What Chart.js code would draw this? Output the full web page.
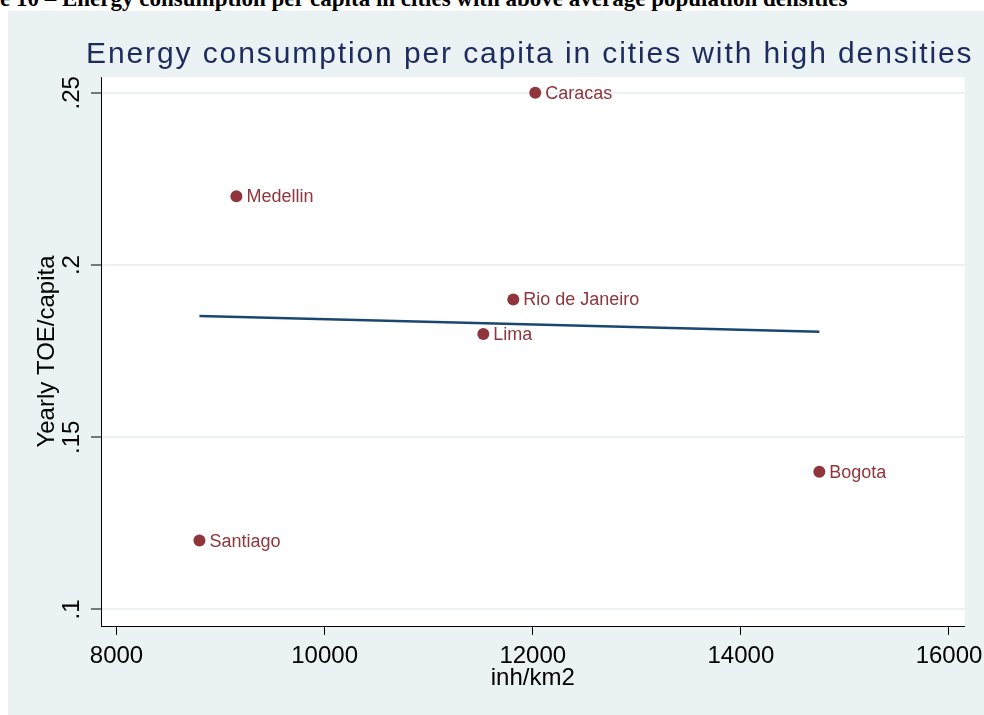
<!DOCTYPE html>
<html>
<head>
<meta charset="utf-8">
<script src="https://cdn.jsdelivr.net/npm/chart.js@4.4.0/dist/chart.umd.min.js"></script>
<style>
  html, body { margin: 0; padding: 0; background: #fff; width: 984px; height: 715px; overflow: hidden; position: relative; }
  #cap { position: absolute; left: 0; top: -13px; font: bold 23px "Liberation Serif", serif; line-height: 23px; white-space: nowrap; color: #000; }
  #wrap { position: absolute; left: 8px; top: 11px; width: 976px; height: 704px; background: #eaf2f3; }
</style>
</head>
<body>
<div id="cap">e 10 – Energy consumption per capita in cities with above average population densities</div>
<div id="wrap"><canvas id="chart" width="976" height="704"></canvas></div>
<script>
// values
const cities = ["Medellin", "Caracas", "Rio de Janeiro", "Lima", "Bogota", "Santiago"];
const density = [9152, 12024, 11813, 11525, 14754, 8797];
const toe = [0.22, 0.25, 0.19, 0.18, 0.14, 0.12];

// fitted line, end points
const fitX = [8797, 14754];
const fitY = [0.1852, 0.1806];

const xTicks = [8000, 10000, 12000, 14000, 16000];
const yTicks = [0.1, 0.15, 0.2, 0.25];
const yTickLabels = [".1", ".15", ".2", ".25"];

const maroon = "#90353b";
const navy = "#1a476f";

Chart.defaults.font.family = '"Liberation Sans", Arial, sans-serif';
Chart.defaults.color = "#000";

const plotBg = {
  id: "plotBg",
  beforeDraw(chart) {
    const a = chart.chartArea;
    const ctx = chart.ctx;
    ctx.save();
    ctx.fillStyle = "#fff";
    ctx.fillRect(a.left, a.top, a.right - a.left, a.bottom - a.top);
    ctx.restore();
  },
};

const pointLabels = {
  id: "pointLabels",
  afterDatasetsDraw(chart) {
    const ctx = chart.ctx;
    const meta = chart.getDatasetMeta(0);
    ctx.save();
    ctx.font = '18px "Liberation Sans", Arial, sans-serif';
    ctx.fillStyle = maroon;
    ctx.textBaseline = "middle";
    meta.data.forEach((pt, i) => {
      ctx.fillText(cities[i], pt.x + 10, pt.y + 1);
    });
    ctx.restore();
  },
};

const headline = {
  id: "headline",
  afterDraw(chart) {
    const ctx = chart.ctx;
    ctx.save();
    ctx.font = '30px "Liberation Sans", Arial, sans-serif';
    ctx.letterSpacing = "1.9px";
    ctx.fillStyle = "#1e2b5e";
    ctx.textAlign = "left";
    ctx.textBaseline = "alphabetic";
    ctx.fillText("Energy consumption per capita in cities with high densities", 78, 52);
    ctx.restore();
  },
};

// no extra room for overhanging tick labels
function noPad(s) {
  s.paddingLeft = 0;
  s.paddingRight = 0;
  s.paddingTop = 0;
  s.paddingBottom = 0;
}

new Chart(document.getElementById("chart"), {
  type: "scatter",
  data: {
    datasets: [
      {
        label: "TOE",
        data: density.map((x, i) => ({ x: x, y: toe[i] })),
        backgroundColor: maroon,
        borderWidth: 0,
        pointRadius: 6,
      },
      {
        type: "line",
        label: "Fitted values",
        data: fitX.map((x, i) => ({ x: x, y: fitY[i] })),
        borderColor: navy,
        borderWidth: 2.5,
        pointRadius: 0,
        fill: false,
      },
    ],
  },
  options: {
    responsive: false,
    animation: false,
    devicePixelRatio: 1,
    layout: { padding: { left: 0, right: 19.5, top: 66, bottom: 0 } },
    plugins: {
      legend: { display: false },
      tooltip: { enabled: false },
      title: { display: false },
    },
    scales: {
      x: {
        type: "linear",
        min: 7851,
        max: 16149,
        afterBuildTicks: (s) => { s.ticks = xTicks.map((v) => ({ value: v })); },
        afterFit: (s) => { s.height = 89; noPad(s); },
        ticks: { callback: (v) => String(v), padding: 7, maxRotation: 0, font: { size: 24 }, color: "#000" },
        grid: { drawOnChartArea: false, tickColor: "#000", tickWidth: 1, tickLength: 9 },
        border: { color: "#000", width: 1 },
        title: { display: true, text: "inh/km2", font: { size: 24 }, color: "#000", padding: { top: 0, bottom: 22.6 } },
      },
      y: {
        type: "linear",
        min: 0.0952,
        max: 0.2546,
        afterBuildTicks: (s) => { s.ticks = yTicks.map((v) => ({ value: v })); },
        afterFit: (s) => { s.width = 93; noPad(s); },
        ticks: {
          callback: (v, i) => yTickLabels[i],
          minRotation: 90,
          maxRotation: 90,
          crossAlign: "center",
          padding: 2,
          font: { size: 24 },
          color: "#000",
        },
        grid: { color: "#eaf2f3", lineWidth: 2, tickColor: "#000", tickWidth: 1, tickLength: 10 },
        border: { color: "#000", width: 1 },
        title: { display: true, text: "Yearly TOE/capita", font: { size: 24 }, color: "#000", padding: { top: 24.6, bottom: 0 } },
      },
    },
  },
  plugins: [plotBg, pointLabels, headline],
});
</script>
</body>
</html>
